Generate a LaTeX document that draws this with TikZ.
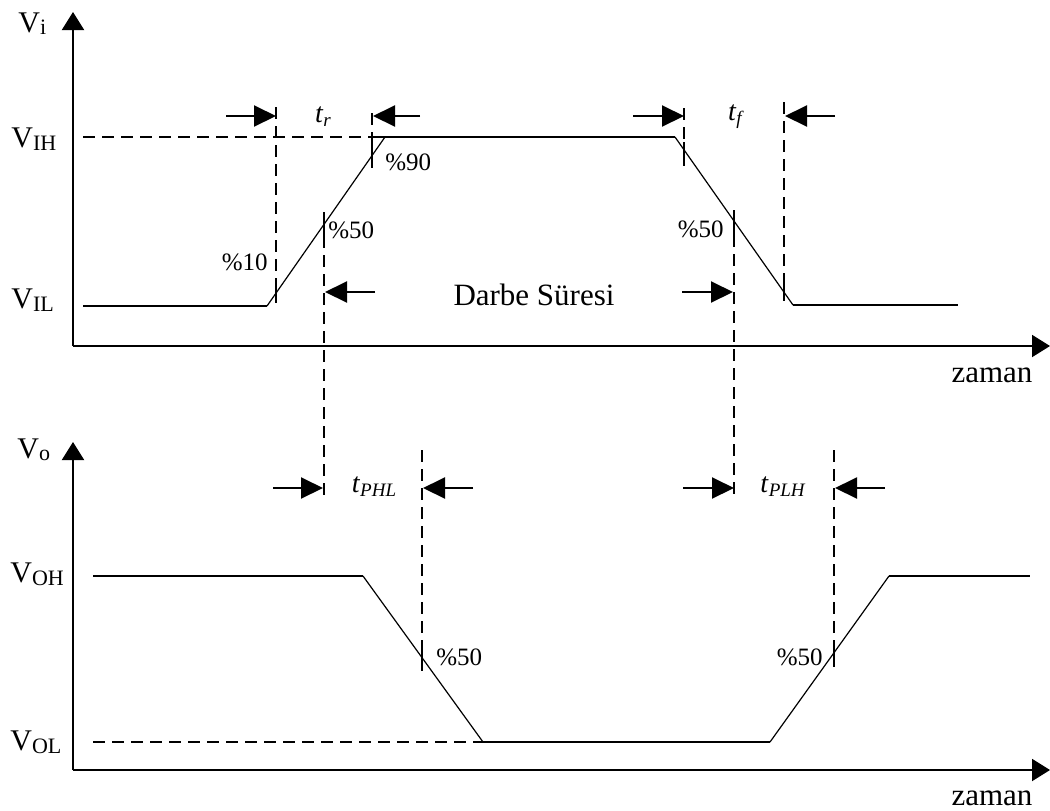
\documentclass[tikz,border=0pt]{standalone}
\usepackage{fontspec}
\setmainfont{Liberation Serif}
\usetikzlibrary{arrows.meta}
\newcommand{\Vlab}[1]{\fontsize{15}{16}\selectfont V\raisebox{-1.5pt}{\fontsize{11}{12}\selectfont #1}}
\newcommand{\tlab}[1]{\fontsize{14}{15}\selectfont\textit{t}\raisebox{-2pt}{\fontsize{9.5}{10}\selectfont\textit{#1}}}
\begin{document}
\begin{tikzpicture}[x=0.5pt,y=-0.5pt,
  axis/.style={line width=1pt,-{Triangle[length=9pt,width=11pt]}},
  sig/.style={line width=1pt},
  ramp/.style={line width=0.6pt},
  guide/.style={line width=1pt,dash pattern=on 6pt off 3.5pt},
  tickmark/.style={line width=1pt},
  dimarrow/.style={line width=1pt,-{Triangle[length=11pt,width=10.5pt]}},
  pct/.style={inner sep=0pt,font=\fontsize{12.5}{13}\selectfont},
  vl/.style={inner sep=0pt,anchor=base west},
  big/.style={inner sep=0pt,font=\fontsize{15.5}{16}\selectfont}]
\useasboundingbox (0,0) rectangle (1050,810);
% ---------- top (input) ----------
\coordinate (O1) at (73,346);
\coordinate (Y1) at (73,12);
\coordinate (X1) at (1050,346);
\draw[axis] (O1) -- (Y1);
\draw[axis] (O1) -- (X1);
\coordinate (a0) at (83,306);
\coordinate (a1) at (267,306);
\coordinate (a2) at (385,137);
\coordinate (a2d) at (372,137);
\coordinate (ad0) at (83,137);
\coordinate (a3) at (675,137);
\coordinate (a4) at (793,305);
\coordinate (a5) at (958,305);
\draw[guide] (ad0) -- (a2d);
\draw[sig] (a0) -- (a1);
\draw[ramp] (a1) -- (a2);
\draw[sig] (a2d) -- (a3);
\draw[ramp] (a3) -- (a4);
\draw[sig] (a4) -- (a5);
% guides and ticks, rising edge
\coordinate (g10t) at (276,107); \coordinate (g10b) at (276,283); \coordinate (k10) at (276,303);
\draw[guide] (g10t) -- (g10b); \draw[tickmark] (g10b) -- (k10);
\coordinate (g90t) at (372,113); \coordinate (g90b) at (372,140); \coordinate (k90) at (372,168);
\draw[guide] (g90t) -- (g90b); \draw[tickmark] (g90b) -- (k90);
\coordinate (k50t) at (324,212); \coordinate (k50b) at (324,236); \coordinate (g50e) at (324,498);
\draw[tickmark] (k50t) -- (k50b); \draw[guide] (k50b) -- (g50e);
% falling edge
\coordinate (f90t) at (684,108); \coordinate (f90m) at (684,142); \coordinate (f90b) at (684,166);
\draw[guide] (f90t) -- (f90m); \draw[tickmark] (f90m) -- (f90b);
\coordinate (f50t) at (734,210); \coordinate (f50b) at (734,235); \coordinate (f50e) at (734,498);
\draw[tickmark] (f50t) -- (f50b); \draw[guide] (f50b) -- (f50e);
\coordinate (f10t) at (784,102); \coordinate (f10m) at (784,283); \coordinate (f10b) at (784,301);
\draw[guide] (f10t) -- (f10m); \draw[tickmark] (f10m) -- (f10b);
% dimension arrows
\coordinate (tr1) at (226,116); \coordinate (tr1e) at (276,116);
\coordinate (tr2) at (420,116); \coordinate (tr2e) at (373,116);
\draw[dimarrow] (tr1) -- (tr1e); \draw[dimarrow] (tr2) -- (tr2e);
\coordinate (tf1) at (633,116); \coordinate (tf1e) at (684,116);
\coordinate (tf2) at (835,116); \coordinate (tf2e) at (785,116);
\draw[dimarrow] (tf1) -- (tf1e); \draw[dimarrow] (tf2) -- (tf2e);
\coordinate (ds1) at (375,292); \coordinate (ds1e) at (325,292);
\coordinate (ds2) at (682,292); \coordinate (ds2e) at (733,292);
\draw[dimarrow] (ds1) -- (ds1e); \draw[dimarrow] (ds2) -- (ds2e);
% labels
\node[vl] (vi) at (18,32) {\fontsize{15}{16}\selectfont V\raisebox{-1pt}{\fontsize{11}{12}\selectfont i}};
\node[vl] (vih) at (11,147) {\Vlab{IH}};
\node[vl] (vil) at (11,308) {\Vlab{IL}};
\node[inner sep=0pt] (tr) at (323,117) {\tlab{r}};
\node[inner sep=0pt] (tf) at (736,117) {\tlab{f}};
\node[big,anchor=base] (darbe) at (534,305) {Darbe Süresi};
\node[pct,anchor=base east] (p10) at (268,270) {\%10};
\node[pct,anchor=base west] (p50a) at (328,238) {\%50};
\node[pct,anchor=base west] (p90) at (385,170) {\%90};
\node[pct,anchor=base east] (p50b) at (724,237) {\%50};
\node[big,anchor=base] (zam1) at (992,382) {zaman};
% ---------- bottom (output) ----------
\coordinate (O2) at (73,770);
\coordinate (Y2) at (73,442);
\coordinate (X2) at (1050,770);
\draw[axis] (O2) -- (Y2);
\draw[axis] (O2) -- (X2);
\coordinate (b0) at (93,576);
\coordinate (b1) at (363,576);
\coordinate (b2) at (483,742);
\coordinate (b3) at (770,742);
\coordinate (b4) at (889,576);
\coordinate (b5) at (1030,576);
\coordinate (bd0) at (93,742);
\draw[sig] (b0) -- (b1);
\draw[ramp] (b1) -- (b2);
\draw[sig] (b2) -- (b3);
\draw[ramp] (b3) -- (b4);
\draw[sig] (b4) -- (b5);
\draw[guide] (bd0) -- (b2);
\coordinate (h50g) at (422,450); \coordinate (h50t) at (422,643); \coordinate (h50b) at (422,671);
\draw[guide] (h50g) -- (h50t); \draw[tickmark] (h50t) -- (h50b);
\coordinate (l50g) at (834,450); \coordinate (l50t) at (834,640); \coordinate (l50b) at (834,667);
\draw[guide] (l50g) -- (l50t); \draw[tickmark] (l50t) -- (l50b);
\coordinate (ph1) at (273,488); \coordinate (ph1e) at (323,488);
\coordinate (ph2) at (473,488); \coordinate (ph2e) at (423,488);
\draw[dimarrow] (ph1) -- (ph1e); \draw[dimarrow] (ph2) -- (ph2e);
\coordinate (pl1) at (683,488); \coordinate (pl1e) at (734,488);
\coordinate (pl2) at (885,488); \coordinate (pl2e) at (835,488);
\draw[dimarrow] (pl1) -- (pl1e); \draw[dimarrow] (pl2) -- (pl2e);
\node[vl] (vo) at (17,458) {\fontsize{15}{16}\selectfont V\raisebox{-1pt}{\fontsize{11}{12}\selectfont o}};
\node[vl] (voh) at (10,582) {\Vlab{OH}};
\node[vl] (vol) at (10,750) {\Vlab{OL}};
\node[inner sep=0pt] (tphl) at (374,487) {\tlab{PHL}};
\node[inner sep=0pt] (tplh) at (783,487) {\tlab{PLH}};
\node[pct,anchor=base west] (p50c) at (436,665) {\%50};
\node[pct,anchor=base east] (p50d) at (823,665) {\%50};
\node[big,anchor=base] (zam2) at (992,805) {zaman};
\end{tikzpicture}
\end{document}
